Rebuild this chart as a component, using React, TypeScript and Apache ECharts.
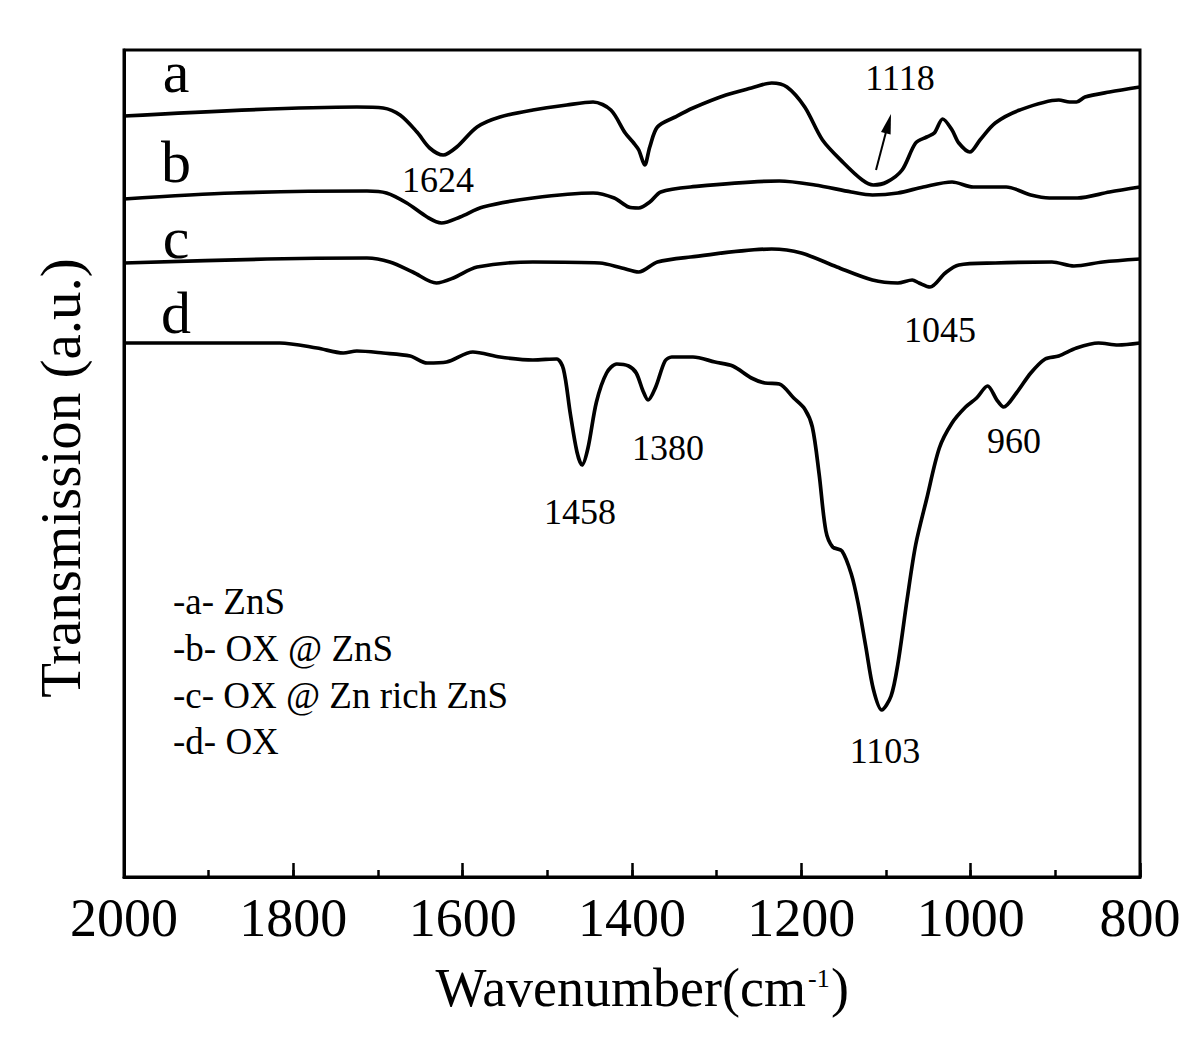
import React, { useEffect, useRef } from "react";
import * as echarts from "echarts";

const FONT = "'Liberation Serif','Times New Roman',serif";

// x tick labels shown on the axis (wavenumber, cm-1)
const xTicks = [2000, 1800, 1600, 1400, 1200, 1000, 800];

// Curve a: ZnS
const waveA = [2000, 1725, 1694, 1674, 1654, 1639, 1623, 1607, 1583, 1556, 1517, 1477, 1446, 1425, 1408, 1398, 1392, 1385, 1379, 1370, 1349, 1328, 1289, 1259, 1235, 1217, 1196, 1175, 1150, 1128, 1115, 1099, 1081, 1065, 1052, 1043, 1033, 1022, 1014, 1001, 989, 971, 942, 896, 883, 875, 865, 836, 800];
const transA = [761, 770, 769, 762, 745, 729, 722, 730, 750, 760, 767, 772, 775, 767, 744, 734, 727, 712, 730, 750, 760, 769, 782, 789, 794, 790, 770, 737, 714, 697, 692, 695, 707, 734, 740, 744, 758, 747, 734, 725, 737, 754, 767, 777, 775, 775, 780, 785, 790];

// Curve b: OX @ ZnS
const waveB = [2000, 1871, 1713, 1690, 1666, 1642, 1625, 1603, 1576, 1517, 1446, 1421, 1404, 1392, 1379, 1366, 1331, 1226, 1184, 1141, 1116, 1086, 1056, 1022, 997, 958, 929, 907, 874, 836, 800];
const transB = [678, 684, 686, 684, 674, 660, 654, 660, 670, 679, 684, 679, 670, 669, 675, 685, 690, 696, 692, 685, 682, 684, 690, 695, 690, 690, 682, 679, 679, 685, 690];

// Curve c: OX @ Zn rich ZnS
const waveC = [2000, 1831, 1713, 1686, 1659, 1631, 1611, 1583, 1517, 1438, 1412, 1392, 1370, 1331, 1235, 1200, 1158, 1116, 1086, 1069, 1061, 1048, 1030, 1014, 971, 904, 878, 844, 800];
const transC = [614, 618, 619, 615, 605, 594, 599, 610, 615, 614, 609, 605, 615, 620, 628, 624, 610, 597, 594, 597, 594, 590, 604, 612, 614, 615, 611, 615, 618];

// Curve d: OX
const waveD = [2000, 1910, 1816, 1772, 1741, 1725, 1694, 1662, 1642, 1619, 1588, 1556, 1517, 1489, 1481, 1473, 1465, 1459, 1452, 1442, 1430, 1418, 1404, 1395, 1387, 1381, 1372, 1361, 1353, 1328, 1302, 1281, 1259, 1243, 1226, 1209, 1196, 1187, 1179, 1171, 1163, 1152, 1141, 1133, 1124, 1115, 1105, 1094, 1086, 1075, 1065, 1052, 1037, 1022, 1006, 993, 980, 969, 961, 946, 929, 912, 896, 875, 849, 826, 800];
const transD = [534, 534, 534, 529, 524, 526, 524, 521, 514, 515, 525, 520, 517, 518, 508, 464, 425, 412, 429, 475, 504, 513, 511, 504, 486, 477, 490, 516, 520, 520, 515, 511, 499, 494, 493, 479, 468, 450, 403, 346, 330, 326, 303, 274, 231, 188, 167, 181, 213, 278, 332, 378, 429, 454, 470, 479, 491, 477, 470, 484, 504, 518, 521, 529, 534, 532, 534];

const curveLetters = ["a", "b", "c", "d"];
const legendLines = ["-a- ZnS", "-b- OX @ ZnS", "-c- OX @ Zn rich ZnS", "-d- OX"];
const peakLabels = ["1624", "1118", "1045", "1458", "1380", "1103", "960"];

const zip = (w: number[], t: number[]) => w.map((x, i) => [x, t[i]]);

export default function App() {
  const ref = useRef<HTMLDivElement>(null);
  useEffect(() => {
    if (!ref.current) return;
    const chart = echarts.init(ref.current, null, { renderer: "svg" });
    const lineSeries = (name: string, data: number[][]) => ({
      name,
      type: "line",
      xAxisIndex: 0,
      data,
      showSymbol: false,
      smooth: 0.3,
      lineStyle: { color: "#000", width: 3.7 },
      itemStyle: { color: "#000" },
      z: 3,
    });
    const letterPos = [
      [176, 72],
      [176, 162],
      [176, 238],
      [176, 313],
    ];
    const peakPos = [
      [438, 180],
      [900, 78],
      [940, 330],
      [580, 512],
      [668, 448],
      [885, 751],
      [1014, 441],
    ];
    const legendY = [601, 648, 695, 741];
    const graphics: any[] = [];
    curveLetters.forEach((t, i) =>
      graphics.push({
        type: "text",
        x: letterPos[i][0],
        y: letterPos[i][1],
        style: { text: t, font: `60px ${FONT}`, fill: "#000", align: "center", verticalAlign: "middle" },
      })
    );
    peakLabels.forEach((t, i) =>
      graphics.push({
        type: "text",
        x: peakPos[i][0],
        y: peakPos[i][1],
        style: { text: t, font: `36px ${FONT}`, fill: "#000", align: "center", verticalAlign: "middle" },
      })
    );
    legendLines.forEach((t, i) =>
      graphics.push({
        type: "text",
        x: 173,
        y: legendY[i],
        style: { text: t, font: `37px ${FONT}`, fill: "#000", align: "left", verticalAlign: "middle" },
      })
    );
    // arrow for 1118
    graphics.push({
      type: "line",
      shape: { x1: 876, y1: 170, x2: 886, y2: 132 },
      style: { stroke: "#000", lineWidth: 2 },
    });
    graphics.push({
      type: "polygon",
      shape: { points: [[891, 114], [890.6, 134.6], [881, 132]] },
      style: { fill: "#000" },
    });
    // axis titles
    graphics.push({
      type: "text",
      x: 60,
      y: 478,
      rotation: Math.PI / 2,
      style: { text: "Transmission (a.u.)", font: `57px ${FONT}`, fill: "#000", align: "center", verticalAlign: "middle" },
    });
    graphics.push({
      type: "text",
      x: 806,
      y: 988,
      style: { text: "Wavenumber(cm", font: `54px ${FONT}`, fill: "#000", align: "right", verticalAlign: "middle" },
    });
    graphics.push({
      type: "text",
      x: 808,
      y: 978,
      style: { text: "-1", font: `26px ${FONT}`, fill: "#000", align: "left", verticalAlign: "middle" },
    });
    graphics.push({
      type: "text",
      x: 831,
      y: 988,
      style: { text: ")", font: `54px ${FONT}`, fill: "#000", align: "left", verticalAlign: "middle" },
    });

    chart.setOption({
      animation: false,
      backgroundColor: "#fff",
      grid: { left: 124, right: 60, top: 50, bottom: 178, show: true, borderColor: "#000", borderWidth: 3 },
      xAxis: [
        {
          type: "value",
          min: 800,
          max: 2000,
          interval: 200,
          inverse: true,
          position: "bottom",
          axisLine: { show: true, onZero: false, lineStyle: { color: "#000", width: 3 } },
          axisTick: { show: true, inside: true, length: 14, lineStyle: { color: "#000", width: 2.5 } },
          axisLabel: {
            fontSize: 54,
            fontFamily: FONT,
            color: "#000",
            margin: 14,
            formatter: (v: number) => (xTicks.includes(v) ? String(v) : ""),
          },
          splitLine: { show: false },
        },
        {
          type: "value",
          min: 800,
          max: 2000,
          interval: 100,
          inverse: true,
          position: "bottom",
          axisLine: { show: false, onZero: false },
          axisTick: { show: true, inside: true, length: 7, lineStyle: { color: "#000", width: 2.5 } },
          axisLabel: { show: false },
          splitLine: { show: false },
        },
      ],
      yAxis: {
        type: "value",
        min: 0,
        max: 827,
        axisLine: { show: true, onZero: false, lineStyle: { color: "#000", width: 3 } },
        axisTick: { show: false },
        axisLabel: { show: false },
        splitLine: { show: false },
      },
      series: [
        lineSeries("ZnS", zip(waveA, transA)),
        lineSeries("OX @ ZnS", zip(waveB, transB)),
        lineSeries("OX @ Zn rich ZnS", zip(waveC, transC)),
        lineSeries("OX", zip(waveD, transD)),
      ],
      graphic: graphics,
    });
    return () => chart.dispose();
  }, []);
  return (
    <div
      ref={ref}
      style={{ position: "absolute", left: 0, top: 0, width: 1200, height: 1055, background: "#fff" }}
    />
  );
}
